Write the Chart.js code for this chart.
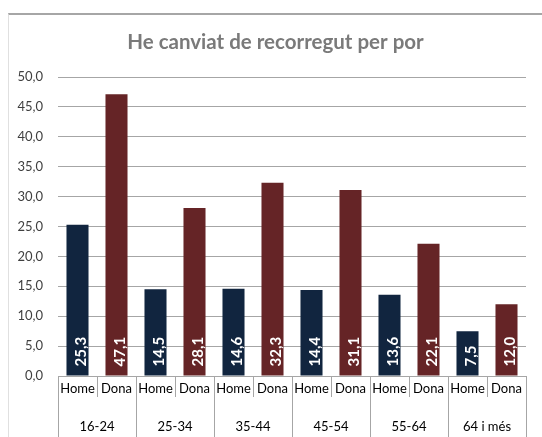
<!DOCTYPE html>
<html>
<head>
    <meta charset="utf-8">
    <script src="https://cdn.jsdelivr.net/npm/chart.js@4"></script>
    <style>
        body { margin: 0; background: #fff; }
        #wrap { position: relative; width: 542px; height: 437px; }
        #frame { position: absolute; left: 8px; top: 13px; width: 600px; height: 500px;
                 border-top: 2px solid #a6a6a6; border-left: 1px solid #e0e0e0; }
        #myChart { position: absolute; left: 0; top: 0; }
    </style>
</head>
<body>
<div id="wrap">
    <div id="frame"></div>
    <canvas id="myChart" width="542" height="437"></canvas>
</div>
<script>
    var ageGroups = ['16-24', '25-34', '35-44', '45-54', '55-64', '64 i més'];
    var sexLabels = ['Home', 'Dona'];
    var homeValues = [25.3, 14.5, 14.6, 14.4, 13.6, 7.5];
    var donaValues = [47.1, 28.1, 32.3, 31.1, 22.1, 12.0];
    var yTicks = [0, 5, 10, 15, 20, 25, 30, 35, 40, 45, 50];

    // one category per bar: Home, Dona, Home, Dona ...
    var xLabels = [];
    var homeData = [];
    var donaData = [];
    ageGroups.forEach(function (g, i) {
        xLabels.push(sexLabels[0], sexLabels[1]);
        homeData.push(homeValues[i], null);
        donaData.push(null, donaValues[i]);
    });

    function fmt(v) {
        return v.toFixed(1).replace('.', ',');
    }

    // separator lines under the axis, short between Home/Dona, long between groups
    var separators = {
        id: 'separators',
        afterDraw: function (chart) {
            var xs = chart.scales.x;
            var ctx = chart.ctx;
            var n = xLabels.length;
            var top = chart.chartArea.bottom;
            ctx.save();
            ctx.strokeStyle = '#a6a6a6';
            ctx.lineWidth = 1;
            for (var i = 0; i <= n; i++) {
                var px;
                if (i === 0) px = xs.left;
                else if (i === n) px = xs.right;
                else px = (xs.getPixelForValue(i - 1) + xs.getPixelForValue(i)) / 2;
                px = Math.round(px) + 0.5;
                var bottom = (i % 2 === 0) ? chart.height : top + 21;
                ctx.beginPath();
                ctx.moveTo(px, top);
                ctx.lineTo(px, bottom);
                ctx.stroke();
            }
            ctx.restore();
        }
    };

    // value labels, rotated, at the base of each bar
    var baseLabels = {
        id: 'baseLabels',
        afterDatasetsDraw: function (chart) {
            var ctx = chart.ctx;
            ctx.save();
            ctx.fillStyle = '#ffffff';
            ctx.font = 'bold 15px Lato';
            ctx.textAlign = 'left';
            ctx.textBaseline = 'alphabetic';
            chart.data.datasets.forEach(function (ds, di) {
                chart.getDatasetMeta(di).data.forEach(function (bar, j) {
                    var v = ds.data[j];
                    if (v === null) return;
                    ctx.save();
                    ctx.translate(bar.x + 8.5, bar.base - 9);
                    ctx.rotate(-Math.PI / 2);
                    ctx.fillText(fmt(v), 0, 0);
                    ctx.restore();
                });
            });
            ctx.restore();
        }
    };

    var chart = new Chart(document.getElementById('myChart').getContext('2d'), {
        type: 'bar',
        data: {
            labels: xLabels,
            datasets: [{
                label: 'Home',
                data: homeData,
                backgroundColor: '#11253f',
                grouped: false,
                barPercentage: 0.565,
                categoryPercentage: 1
            }, {
                label: 'Dona',
                data: donaData,
                backgroundColor: '#652426',
                grouped: false,
                barPercentage: 0.565,
                categoryPercentage: 1
            }]
        },
        options: {
            responsive: false,
            animation: false,
            layout: { padding: { left: 9, right: 0, top: 0, bottom: 2 } },
            plugins: {
                legend: { display: false },
                tooltip: { enabled: false },
                title: {
                    display: true,
                    text: 'He canviat de recorregut per por',
                    color: '#7a7a7a',
                    font: { family: 'Lato', size: 20.5, weight: 'bold', lineHeight: 1.2 },
                    padding: { top: 30, bottom: 22.4 }
                }
            },
            scales: {
                x: {
                    type: 'category',
                    offset: true,
                    grid: { display: false, drawTicks: false },
                    border: { display: false },
                    ticks: {
                        padding: 5,
                        color: '#000000',
                        font: { family: 'Lato', size: 13 },
                        maxRotation: 0,
                        autoSkip: false
                    },
                    afterFit: function (s) { s.height = 21; }
                },
                x2: {
                    type: 'category',
                    position: 'bottom',
                    labels: ageGroups,
                    offset: true,
                    grid: { display: false, drawTicks: false },
                    border: { display: false },
                    ticks: {
                        padding: 22,
                        color: '#000000',
                        font: { family: 'Lato', size: 13 },
                        maxRotation: 0,
                        autoSkip: false
                    },
                    afterFit: function (s) { s.height = 38; }
                },
                y: {
                    min: 0,
                    max: 50,
                    afterBuildTicks: function (s) {
                        s.ticks = yTicks.map(function (v) { return { value: v }; });
                    },
                    grid: { color: '#a6a6a6', drawTicks: false },
                    border: { display: false },
                    ticks: {
                        padding: 15,
                        color: '#404040',
                        font: { family: 'Lato', size: 13 },
                        callback: function (v) { return fmt(v); }
                    },
                    afterFit: function (s) { s.width = 49; }
                },
                // empty right margin
                yRight: {
                    position: 'right',
                    grid: { display: false, drawTicks: false },
                    border: { display: false },
                    ticks: { display: false },
                    afterFit: function (s) { s.width = 16; }
                }
            }
        },
        plugins: [separators, baseLabels]
    });
</script>
</body>
</html>
